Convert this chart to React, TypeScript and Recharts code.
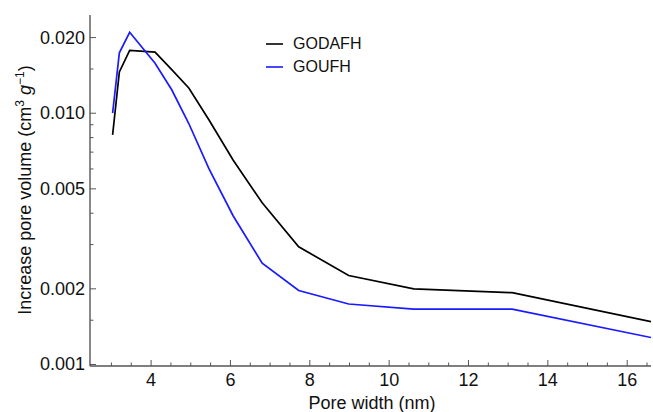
import React from 'react'
import { LineChart, Line, XAxis, YAxis, Legend, Label } from 'recharts'

// pore width (nm) and incremental pore volume (cm3/g)
const poreWidth = [3.03, 3.2, 3.46, 4.1, 4.52, 4.95, 5.46, 6.07, 6.8, 7.72, 8.98, 10.62, 13.1, 16.6]
const godafh = [0.0082, 0.0146, 0.0178, 0.0175, 0.0149, 0.0126, 0.0094, 0.0065, 0.0044, 0.00294, 0.00226, 0.002, 0.00193, 0.00148]
const goufh = [0.01, 0.0174, 0.021, 0.0158, 0.0124, 0.0091, 0.006, 0.0039, 0.00253, 0.00197, 0.00174, 0.00166, 0.00166, 0.00128]

const xMajor = [4, 6, 8, 10, 12, 14, 16]
const xTicks = [3, 3.5, 4, 4.5, 5, 5.5, 6, 6.5, 7, 7.5, 8, 8.5, 9, 9.5, 10, 10.5, 11, 11.5, 12, 12.5, 13, 13.5, 14, 14.5, 15, 15.5, 16, 16.5]
const yMajor = [0.001, 0.002, 0.005, 0.01, 0.02]
const yTicks = [0.001, 0.0015, 0.002, 0.003, 0.004, 0.005, 0.006, 0.007, 0.008, 0.009, 0.01, 0.015, 0.02]

const series = [
  { key: 'godafh', name: 'GODAFH', color: '#000000' },
  { key: 'goufh', name: 'GOUFH', color: '#1a1aff' },
]

const FONT = '"Liberation Sans", Arial, Helvetica, sans-serif'
const FRAME = '#555'
const MAJOR = 6
const MINOR = 3.5

const data = poreWidth.map((x, i) => ({ x, godafh: godafh[i], goufh: goufh[i] }))

function BottomTick(props: any) {
  const { x, y, payload } = props
  const major = xMajor.includes(payload.value)
  return (
    <g>
      <line x1={x} y1={y} x2={x} y2={y - (major ? MAJOR : MINOR)} stroke={FRAME} />
      {major && (
        <text x={x} y={y + 20} textAnchor="middle" fontSize={18} fontFamily={FONT} fill="#111">
          {payload.value}
        </text>
      )}
    </g>
  )
}

function TopTick(props: any) {
  const { x, y, payload } = props
  const major = xMajor.includes(payload.value)
  return <line x1={x} y1={y} x2={x} y2={y + (major ? MAJOR : MINOR)} stroke={FRAME} />
}

function LeftTick(props: any) {
  const { x, y, payload } = props
  const major = yMajor.includes(payload.value)
  return (
    <g>
      <line x1={x} y1={y} x2={x + (major ? MAJOR : MINOR)} y2={y} stroke={FRAME} />
      {major && (
        <text x={x - 5} y={y + 6} textAnchor="end" fontSize={18} fontFamily={FONT} fill="#111">
          {payload.value.toFixed(3)}
        </text>
      )}
    </g>
  )
}

function RightTick(props: any) {
  const { x, y, payload } = props
  const major = yMajor.includes(payload.value)
  return <line x1={x} y1={y} x2={x - (major ? MAJOR : MINOR)} y2={y} stroke={FRAME} />
}

function YTitle() {
  return (
    <text transform="translate(31,190) rotate(-90)" textAnchor="middle" fontSize={18} fontFamily={FONT} fill="#111">
      Increase pore volume (cm
      <tspan dy={-7} fontSize={12}>3</tspan>
      <tspan dy={7}> </tspan>
      <tspan fontStyle="italic">g</tspan>
      <tspan dy={-7} fontSize={12}>−1</tspan>
      <tspan dy={7}>)</tspan>
    </text>
  )
}

function LegendBox() {
  return (
    <div style={{ fontFamily: FONT, fontSize: 16, color: '#111' }}>
      {series.map((s) => (
        <div key={s.key} style={{ display: 'flex', alignItems: 'center', height: 23.4 }}>
          <svg width={17} height={4} style={{ marginRight: 10 }}>
            <line x1={0} y1={2} x2={17} y2={2} stroke={s.color} strokeWidth={1.6} />
          </svg>
          <span>{s.name}</span>
        </div>
      ))}
    </div>
  )
}

export default function App() {
  return (
    <div style={{ position: 'absolute', left: 0, top: 0, background: '#fff' }}>
      <LineChart width={653} height={412} data={data} margin={{ top: 15, right: 2, bottom: 0, left: 0 }}>
        <XAxis
          dataKey="x"
          type="number"
          domain={[2.46, 16.6]}
          allowDataOverflow
          ticks={xTicks}
          interval={0}
          height={46}
          tickSize={0}
          tickMargin={0}
          tickLine={false}
          axisLine={{ stroke: FRAME, strokeWidth: 1.4 }}
          tick={BottomTick}
        >
          <Label
            content={() => (
              <text x={372} y={409} textAnchor="middle" fontSize={18} fontFamily={FONT} fill="#111">
                Pore width (nm)
              </text>
            )}
          />
        </XAxis>
        <XAxis
          xAxisId="top"
          orientation="top"
          dataKey="x"
          type="number"
          domain={[2.46, 16.6]}
          allowDataOverflow
          ticks={xTicks}
          interval={0}
          height={0}
          tickSize={0}
          tickMargin={0}
          tickLine={false}
          axisLine={{ stroke: FRAME, strokeWidth: 1.4 }}
          tick={TopTick}
        />
        <YAxis
          scale="log"
          type="number"
          domain={[0.000986, 0.0246]}
          allowDataOverflow
          ticks={yTicks}
          interval={0}
          width={90}
          tickSize={0}
          tickMargin={0}
          tickLine={false}
          axisLine={{ stroke: FRAME, strokeWidth: 1.4 }}
          tick={LeftTick}
        >
          <Label content={() => <YTitle />} />
        </YAxis>
        <YAxis
          yAxisId="right"
          orientation="right"
          scale="log"
          type="number"
          domain={[0.000986, 0.0246]}
          allowDataOverflow
          ticks={yTicks}
          interval={0}
          width={0}
          tickSize={0}
          tickMargin={0}
          tickLine={false}
          axisLine={{ stroke: FRAME, strokeWidth: 1.4 }}
          tick={RightTick}
        />
        <Legend
          layout="vertical"
          align="center"
          verticalAlign="middle"
          content={() => <LegendBox />}
          wrapperStyle={{ left: 266, top: 32, width: 'auto', height: 'auto' }}
        />
        {series.map((s) => (
          <Line
            key={s.key}
            type="linear"
            dataKey={s.key}
            name={s.name}
            stroke={s.color}
            strokeWidth={1.7}
            dot={false}
            isAnimationActive={false}
          />
        ))}
      </LineChart>
    </div>
  )
}
